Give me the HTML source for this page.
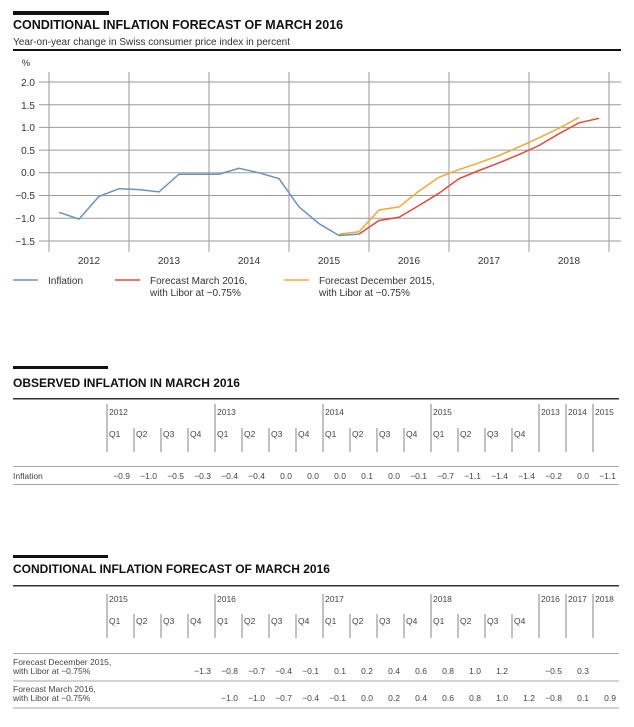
<!DOCTYPE html>
<html><head><meta charset="utf-8"><style>
html,body{margin:0;padding:0;background:#fff;}
svg{display:block;font-family:"Liberation Sans",Arial,sans-serif;}
</style></head><body>
<svg width="634" height="727" viewBox="0 0 634 727" xmlns="http://www.w3.org/2000/svg">
<!-- Chart header -->
<rect x="13" y="11" width="96" height="4" fill="#111"/>
<text x="13" y="29" font-size="12.5" font-weight="bold" fill="#111">CONDITIONAL INFLATION FORECAST OF MARCH 2016</text>
<text x="13" y="45" font-size="10" fill="#333">Year-on-year change in Swiss consumer price index in percent</text>
<rect x="13" y="49" width="608" height="2" fill="#111"/>
<text x="26" y="66" font-size="9.5" fill="#333" text-anchor="middle">%</text>
<g font-size="10" fill="#333" text-anchor="end">
<text x="35" y="86">2.0</text><text x="35" y="109">1.5</text><text x="35" y="131">1.0</text><text x="35" y="154">0.5</text><text x="35" y="176">0.0</text><text x="35" y="199">−0.5</text><text x="35" y="222">−1.0</text><text x="35" y="245">−1.5</text>
</g>
<g stroke="#9a9a9a" stroke-width="1">
<line x1="39" x2="621" y1="82" y2="82"/><line x1="39" x2="621" y1="104.7" y2="104.7"/><line x1="39" x2="621" y1="127.4" y2="127.4"/><line x1="39" x2="621" y1="150.1" y2="150.1"/><line x1="39" x2="621" y1="172.8" y2="172.8"/><line x1="39" x2="621" y1="195.5" y2="195.5"/><line x1="39" x2="621" y1="218.2" y2="218.2"/><line x1="39" x2="621" y1="241" y2="241"/>
<line x1="49" x2="49" y1="72" y2="252"/><line x1="129" x2="129" y1="72" y2="252"/><line x1="209" x2="209" y1="72" y2="252"/><line x1="289" x2="289" y1="72" y2="252"/><line x1="369" x2="369" y1="72" y2="252"/><line x1="449" x2="449" y1="72" y2="252"/><line x1="529" x2="529" y1="72" y2="252"/><line x1="609" x2="609" y1="72" y2="252"/>
</g>
<g font-size="10" fill="#333" text-anchor="middle">
<text x="89" y="264">2012</text><text x="169" y="264">2013</text><text x="249" y="264">2014</text><text x="329" y="264">2015</text><text x="409" y="264">2016</text><text x="489" y="264">2017</text><text x="569" y="264">2018</text>
</g>
<!-- y = 172.8 - v*45.4 ; x = 59 + 20n -->
<polyline fill="none" stroke="#f0a838" stroke-width="1.5" points="339,234.1 359,231.8 379,210 399,206.9 419,191 439,177.3 459,169.6 479,162.8 499,155.5 519,146.9 539,137.8 559,128.3 579,117.4"/>
<polyline fill="none" stroke="#e04a3c" stroke-width="1.5" points="359,234.1 379,220.5 399,217.3 419,205.5 439,193.2 459,178.7 479,170.5 499,162.8 519,154.6 539,145.5 559,133.7 579,122.8 599,118.3"/>
<polyline fill="none" stroke="#6a93b8" stroke-width="1.5" points="59,212.3 79,219.1 99,196.4 119,188.7 139,189.6 159,191.9 179,174.2 199,174.2 219,174.2 239,168.3 259,172.8 279,178.7 299,206.9 319,223.6 339,235.5 359,234.1"/>
<!-- legend -->
<line x1="13" x2="38" y1="280" y2="280" stroke="#6a93b8" stroke-width="1.5"/>
<text x="48" y="284" font-size="10" fill="#333">Inflation</text>
<line x1="115" x2="140" y1="280" y2="280" stroke="#e04a3c" stroke-width="1.5"/>
<text x="150" y="284" font-size="10" fill="#333">Forecast March 2016,</text>
<text x="150" y="296" font-size="10" fill="#333">with Libor at −0.75%</text>
<line x1="284" x2="309" y1="280" y2="280" stroke="#f0a838" stroke-width="1.5"/>
<text x="319" y="284" font-size="10" fill="#333">Forecast December 2015,</text>
<text x="319" y="296" font-size="10" fill="#333">with Libor at −0.75%</text>

<!-- Observed table -->
<rect x="13" y="366" width="95" height="3" fill="#111"/>
<text x="13" y="387" font-size="12" font-weight="bold" fill="#111">OBSERVED INFLATION IN MARCH 2016</text>
<rect x="13" y="398" width="606" height="1.5" fill="#333"/>
<g stroke="#666" stroke-width="0.8">
<line x1="107" x2="107" y1="404" y2="452"/><line x1="215" x2="215" y1="404" y2="452"/><line x1="323" x2="323" y1="404" y2="452"/><line x1="431" x2="431" y1="404" y2="452"/>
<line x1="134" x2="134" y1="428" y2="452"/><line x1="161" x2="161" y1="428" y2="452"/><line x1="188" x2="188" y1="428" y2="452"/>
<line x1="242" x2="242" y1="428" y2="452"/><line x1="269" x2="269" y1="428" y2="452"/><line x1="296" x2="296" y1="428" y2="452"/>
<line x1="350" x2="350" y1="428" y2="452"/><line x1="377" x2="377" y1="428" y2="452"/><line x1="404" x2="404" y1="428" y2="452"/>
<line x1="458" x2="458" y1="428" y2="452"/><line x1="485" x2="485" y1="428" y2="452"/><line x1="512" x2="512" y1="428" y2="452"/>
<line x1="539" x2="539" y1="404" y2="452"/><line x1="566" x2="566" y1="404" y2="452"/><line x1="593" x2="593" y1="404" y2="452"/>
</g>
<g font-size="8.5" fill="#444">
<text x="109" y="415">2012</text><text x="217" y="415">2013</text><text x="325" y="415">2014</text><text x="433" y="415">2015</text>
<text x="541" y="415">2013</text><text x="568" y="415">2014</text><text x="595" y="415">2015</text>
<text x="109" y="437">Q1</text><text x="136" y="437">Q2</text><text x="163" y="437">Q3</text><text x="190" y="437">Q4</text>
<text x="217" y="437">Q1</text><text x="244" y="437">Q2</text><text x="271" y="437">Q3</text><text x="298" y="437">Q4</text>
<text x="325" y="437">Q1</text><text x="352" y="437">Q2</text><text x="379" y="437">Q3</text><text x="406" y="437">Q4</text>
<text x="433" y="437">Q1</text><text x="460" y="437">Q2</text><text x="487" y="437">Q3</text><text x="514" y="437">Q4</text>
</g>
<line x1="13" x2="619" y1="466.5" y2="466.5" stroke="#888" stroke-width="0.8"/>
<text x="13" y="479" font-size="8.5" fill="#444">Inflation</text>
<g font-size="8.5" fill="#444" text-anchor="end">
<text x="130" y="479">−0.9</text><text x="157" y="479">−1.0</text><text x="184" y="479">−0.5</text><text x="211" y="479">−0.3</text>
<text x="238" y="479">−0.4</text><text x="265" y="479">−0.4</text><text x="292" y="479">0.0</text><text x="319" y="479">0.0</text>
<text x="346" y="479">0.0</text><text x="373" y="479">0.1</text><text x="400" y="479">0.0</text><text x="427" y="479">−0.1</text>
<text x="454" y="479">−0.7</text><text x="481" y="479">−1.1</text><text x="508" y="479">−1.4</text><text x="535" y="479">−1.4</text>
<text x="562" y="479">−0.2</text><text x="589" y="479">0.0</text><text x="616" y="479">−1.1</text>
</g>
<line x1="13" x2="619" y1="484.5" y2="484.5" stroke="#888" stroke-width="0.8"/>

<!-- Forecast table -->
<rect x="13" y="555" width="95" height="3" fill="#111"/>
<text x="13" y="573" font-size="12" font-weight="bold" fill="#111">CONDITIONAL INFLATION FORECAST OF MARCH 2016</text>
<rect x="13" y="585" width="606" height="1.5" fill="#333"/>
<g stroke="#666" stroke-width="0.8">
<line x1="107" x2="107" y1="594" y2="638"/><line x1="215" x2="215" y1="594" y2="638"/><line x1="323" x2="323" y1="594" y2="638"/><line x1="431" x2="431" y1="594" y2="638"/>
<line x1="134" x2="134" y1="614" y2="638"/><line x1="161" x2="161" y1="614" y2="638"/><line x1="188" x2="188" y1="614" y2="638"/>
<line x1="242" x2="242" y1="614" y2="638"/><line x1="269" x2="269" y1="614" y2="638"/><line x1="296" x2="296" y1="614" y2="638"/>
<line x1="350" x2="350" y1="614" y2="638"/><line x1="377" x2="377" y1="614" y2="638"/><line x1="404" x2="404" y1="614" y2="638"/>
<line x1="458" x2="458" y1="614" y2="638"/><line x1="485" x2="485" y1="614" y2="638"/><line x1="512" x2="512" y1="614" y2="638"/>
<line x1="539" x2="539" y1="594" y2="638"/><line x1="566" x2="566" y1="594" y2="638"/><line x1="593" x2="593" y1="594" y2="638"/>
</g>
<g font-size="8.5" fill="#444">
<text x="109" y="602">2015</text><text x="217" y="602">2016</text><text x="325" y="602">2017</text><text x="433" y="602">2018</text>
<text x="541" y="602">2016</text><text x="568" y="602">2017</text><text x="595" y="602">2018</text>
<text x="109" y="624">Q1</text><text x="136" y="624">Q2</text><text x="163" y="624">Q3</text><text x="190" y="624">Q4</text>
<text x="217" y="624">Q1</text><text x="244" y="624">Q2</text><text x="271" y="624">Q3</text><text x="298" y="624">Q4</text>
<text x="325" y="624">Q1</text><text x="352" y="624">Q2</text><text x="379" y="624">Q3</text><text x="406" y="624">Q4</text>
<text x="433" y="624">Q1</text><text x="460" y="624">Q2</text><text x="487" y="624">Q3</text><text x="514" y="624">Q4</text>
</g>
<line x1="13" x2="619" y1="653.5" y2="653.5" stroke="#888" stroke-width="0.8"/>
<g font-size="8.5" fill="#444">
<text x="13" y="665">Forecast December 2015,</text><text x="13" y="674">with Libor at −0.75%</text>
<text x="13" y="692">Forecast March 2016,</text><text x="13" y="701">with Libor at −0.75%</text>
</g>
<g font-size="8.5" fill="#444" text-anchor="end">
<text x="211" y="674">−1.3</text><text x="238" y="674">−0.8</text><text x="265" y="674">−0.7</text><text x="292" y="674">−0.4</text>
<text x="319" y="674">−0.1</text><text x="346" y="674">0.1</text><text x="373" y="674">0.2</text><text x="400" y="674">0.4</text>
<text x="427" y="674">0.6</text><text x="454" y="674">0.8</text><text x="481" y="674">1.0</text><text x="508" y="674">1.2</text>
<text x="562" y="674">−0.5</text><text x="589" y="674">0.3</text>
<text x="238" y="701">−1.0</text><text x="265" y="701">−1.0</text><text x="292" y="701">−0.7</text><text x="319" y="701">−0.4</text>
<text x="346" y="701">−0.1</text><text x="373" y="701">0.0</text><text x="400" y="701">0.2</text><text x="427" y="701">0.4</text>
<text x="454" y="701">0.6</text><text x="481" y="701">0.8</text><text x="508" y="701">1.0</text><text x="535" y="701">1.2</text>
<text x="562" y="701">−0.8</text><text x="589" y="701">0.1</text><text x="616" y="701">0.9</text>
</g>
<line x1="13" x2="619" y1="681" y2="681" stroke="#888" stroke-width="0.8"/>
<line x1="13" x2="619" y1="708" y2="708" stroke="#888" stroke-width="0.8"/>
</svg>
</body></html>
